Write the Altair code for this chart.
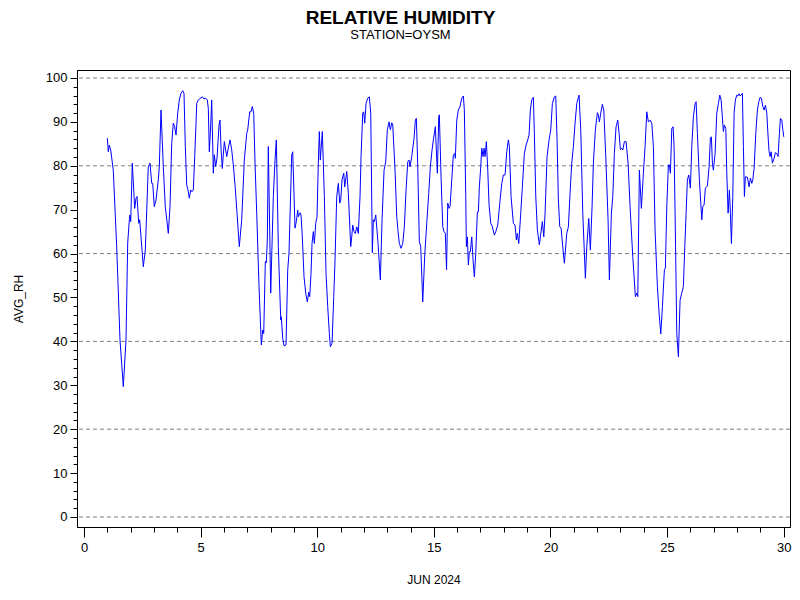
import altair as alt
import pandas as pd

# hourly-ish avg relative humidity
days = [
    1.000, 1.042, 1.085, 1.145, 1.256, 1.402, 1.544, 1.685, 1.801, 1.874,
    1.943, 1.972, 2.003, 2.071, 2.174, 2.230, 2.273, 2.346, 2.388, 2.543,
    2.629, 2.757, 2.830, 2.903, 2.946, 3.014, 3.087, 3.186, 3.229, 3.302,
    3.400, 3.486, 3.615, 3.688, 3.761, 3.829, 3.889, 3.945, 4.018, 4.087,
    4.159, 4.232, 4.288, 4.344, 4.404, 4.460, 4.515, 4.575, 4.631, 4.687,
    4.747, 4.803, 4.833, 4.901, 5.017, 5.073, 5.146, 5.219, 5.287, 5.330,
    5.373, 5.433, 5.476, 5.519, 5.544, 5.587, 5.647, 5.703, 5.789, 5.832,
    5.875, 5.930, 6.016, 6.119, 6.188, 6.261, 6.334, 6.402, 6.475, 6.561,
    6.659, 6.762, 6.874, 6.977, 7.020, 7.105, 7.161, 7.217, 7.277, 7.333,
    7.406, 7.504, 7.603, 7.663, 7.706, 7.774, 7.817, 7.860, 7.903, 8.006,
    8.117, 8.190, 8.246, 8.332, 8.435, 8.460, 8.520, 8.576, 8.662, 8.735,
    8.790, 8.906, 8.949, 9.048, 9.104, 9.164, 9.189, 9.262, 9.305, 9.361,
    9.434, 9.507, 9.575, 9.635, 9.678, 9.734, 9.777, 9.833, 9.876, 9.936,
    9.991, 10.047, 10.090, 10.133, 10.219, 10.305, 10.377, 10.450, 10.519, 10.562,
    10.635, 10.708, 10.763, 10.836, 10.905, 10.965, 11.008, 11.063, 11.136, 11.179,
    11.265, 11.334, 11.436, 11.479, 11.522, 11.578, 11.634, 11.694, 11.762, 11.835,
    11.878, 11.951, 11.994, 12.037, 12.093, 12.165, 12.234, 12.294, 12.363, 12.406,
    12.449, 12.509, 12.607, 12.706, 12.779, 12.865, 12.937, 13.006, 13.079, 13.135,
    13.195, 13.238, 13.336, 13.409, 13.465, 13.521, 13.593, 13.666, 13.735, 13.808,
    13.881, 13.937, 13.979, 14.052, 14.151, 14.207, 14.250, 14.310, 14.378, 14.438,
    14.524, 14.610, 14.696, 14.781, 14.850, 14.923, 14.979, 15.064, 15.150, 15.210,
    15.236, 15.309, 15.382, 15.437, 15.493, 15.544, 15.596, 15.652, 15.695, 15.768,
    15.836, 15.896, 15.922, 15.982, 16.050, 16.123, 16.196, 16.265, 16.308, 16.368,
    16.394, 16.437, 16.480, 16.522, 16.565, 16.625, 16.681, 16.737, 16.797, 16.866,
    16.909, 16.951, 17.011, 17.054, 17.110, 17.153, 17.196, 17.252, 17.312, 17.367,
    17.440, 17.509, 17.595, 17.655, 17.740, 17.839, 17.912, 17.980, 18.053, 18.126,
    18.195, 18.237, 18.310, 18.409, 18.482, 18.538, 18.581, 18.641, 18.726, 18.795,
    18.881, 18.953, 19.026, 19.082, 19.138, 19.198, 19.267, 19.310, 19.370, 19.438,
    19.524, 19.567, 19.653, 19.713, 19.769, 19.854, 19.940, 20.013, 20.082, 20.167,
    20.227, 20.283, 20.339, 20.399, 20.455, 20.519, 20.596, 20.699, 20.768, 20.840,
    20.913, 20.982, 21.055, 21.128, 21.226, 21.299, 21.385, 21.497, 21.557, 21.642,
    21.711, 21.784, 21.840, 21.925, 22.011, 22.054, 22.097, 22.157, 22.226, 22.286,
    22.371, 22.470, 22.526, 22.612, 22.672, 22.740, 22.813, 22.886, 22.942, 22.998,
    23.058, 23.100, 23.169, 23.242, 23.328, 23.413, 23.529, 23.640, 23.701, 23.744,
    23.812, 23.898, 23.984, 24.057, 24.129, 24.198, 24.271, 24.344, 24.413, 24.485,
    24.584, 24.657, 24.730, 24.799, 24.884, 24.927, 24.987, 25.056, 25.099, 25.142,
    25.202, 25.257, 25.300, 25.364, 25.416, 25.485, 25.557, 25.630, 25.699, 25.759,
    25.815, 25.870, 25.930, 25.956, 25.999, 26.059, 26.128, 26.201, 26.244, 26.300,
    26.385, 26.488, 26.531, 26.587, 26.642, 26.728, 26.801, 26.857, 26.900, 26.943,
    26.985, 27.058, 27.131, 27.200, 27.260, 27.316, 27.358, 27.414, 27.457, 27.517,
    27.560, 27.616, 27.672, 27.715, 27.758, 27.817, 27.873, 27.929, 27.989, 28.032,
    28.087, 28.130, 28.173, 28.229, 28.272, 28.315, 28.358, 28.443, 28.516, 28.572,
    28.632, 28.675, 28.731, 28.803, 28.872, 28.932, 28.988, 29.044, 29.104, 29.160,
    29.215, 29.275, 29.331, 29.374, 29.417, 29.460, 29.516, 29.588, 29.644, 29.704,
    29.760, 29.816, 29.859, 29.919, 29.962, 30.004,
]

avg_rh = [
    86.3, 83.2, 84.7, 83.6, 79.0, 61.6, 40.3, 29.7, 40.3, 62.4,
    67.7, 68.8, 67.3, 80.6, 70.3, 72.6, 73.0, 66.9, 67.7, 57.0,
    60.8, 79.8, 80.6, 76.0, 76.0, 70.7, 72.2, 76.8, 79.8, 92.7,
    79.8, 70.7, 64.6, 70.7, 85.1, 89.7, 88.9, 87.0, 92.0, 95.0,
    96.5, 97.1, 96.5, 84.4, 75.6, 74.5, 72.6, 74.5, 74.1, 74.5,
    82.1, 89.7, 94.2, 95.0, 95.5, 95.7, 95.2, 95.4, 95.0, 93.1,
    83.2, 89.3, 95.0, 84.7, 78.3, 82.5, 79.8, 81.7, 89.3, 90.4,
    84.0, 79.4, 85.5, 82.1, 84.0, 85.9, 83.6, 80.2, 75.6, 69.2,
    61.6, 67.7, 81.3, 87.4, 88.2, 92.3, 92.3, 93.5, 92.0, 80.6,
    69.2, 52.5, 39.2, 42.6, 41.8, 58.2, 57.9, 63.1, 84.4, 51.0,
    73.0, 81.3, 85.9, 61.6, 44.9, 45.6, 40.7, 39.0, 39.2, 56.3,
    60.1, 82.5, 83.2, 65.8, 67.3, 69.9, 68.4, 69.3, 68.8, 63.8,
    54.7, 51.0, 49.0, 51.2, 50.2, 55.5, 62.3, 65.0, 62.3, 66.9,
    68.4, 80.6, 87.8, 81.3, 87.8, 73.0, 55.5, 47.9, 41.8, 38.8,
    39.6, 50.2, 58.5, 73.0, 76.0, 71.5, 72.2, 76.8, 78.3, 75.2,
    78.7, 73.7, 61.6, 63.8, 66.5, 65.0, 64.6, 66.1, 64.6, 73.0,
    82.1, 92.0, 92.3, 89.7, 94.2, 95.4, 95.7, 92.0, 60.2, 67.7,
    67.3, 68.8, 62.3, 54.0, 67.7, 79.0, 80.9, 88.2, 90.0, 88.2,
    89.8, 89.3, 79.0, 68.4, 65.0, 62.3, 61.2, 62.3, 66.1, 74.5,
    80.9, 81.3, 79.8, 82.1, 86.3, 90.4, 90.8, 79.8, 62.7, 61.6,
    49.0, 59.7, 66.9, 73.7, 79.8, 83.6, 85.9, 88.9, 78.3, 91.2,
    91.6, 77.5, 66.1, 65.0, 64.6, 56.3, 71.5, 70.3, 70.7, 76.8,
    82.5, 82.8, 81.7, 90.4, 92.7, 93.5, 95.4, 95.9, 92.7, 73.0,
    61.6, 63.8, 57.4, 60.4, 60.4, 63.8, 58.5, 54.7, 60.1, 69.5,
    69.5, 75.2, 79.8, 84.0, 82.1, 84.0, 82.1, 85.5, 79.0, 71.1,
    66.9, 66.1, 64.2, 65.0, 66.5, 72.2, 76.0, 77.9, 77.9, 83.2,
    85.9, 84.4, 73.0, 66.9, 66.5, 63.1, 64.6, 62.3, 69.2, 75.2,
    82.8, 84.7, 85.9, 87.0, 92.7, 95.0, 95.6, 87.4, 73.0, 65.4,
    62.0, 63.8, 67.3, 63.8, 69.2, 82.1, 85.9, 88.2, 94.2, 95.7,
    95.9, 85.9, 72.2, 66.1, 65.8, 62.0, 57.8, 64.6, 66.1, 73.7,
    80.6, 84.4, 89.7, 94.2, 96.1, 88.2, 69.2, 54.4, 61.6, 68.0,
    60.8, 70.7, 80.6, 88.2, 92.1, 91.6, 90.0, 92.0, 94.0, 92.7,
    82.1, 67.7, 54.0, 69.2, 73.0, 82.8, 88.9, 90.4, 87.4, 83.7,
    84.0, 83.6, 85.5, 85.5, 80.6, 70.7, 59.3, 50.2, 51.0, 50.2,
    79.0, 70.3, 78.3, 84.4, 92.3, 90.0, 90.4, 89.7, 84.4, 65.4,
    52.5, 46.4, 41.7, 47.9, 56.3, 56.7, 70.7, 80.2, 80.2, 78.3,
    88.5, 88.9, 84.4, 61.6, 41.8, 36.5, 49.4, 51.0, 52.5, 61.6,
    69.2, 76.8, 77.9, 76.8, 74.9, 84.4, 91.2, 94.2, 94.6, 87.4,
    76.8, 67.7, 70.7, 71.1, 74.9, 75.4, 79.8, 86.3, 86.6, 80.6,
    79.0, 82.8, 92.0, 94.2, 96.1, 95.0, 92.0, 87.8, 89.3, 88.5,
    78.3, 69.2, 74.5, 69.2, 62.3, 73.0, 92.0, 95.0, 96.1, 95.9,
    96.4, 95.9, 96.1, 96.5, 84.4, 73.0, 77.5, 77.4, 75.2, 77.2,
    76.0, 76.8, 79.4, 87.4, 92.7, 94.6, 95.6, 95.4, 93.5, 92.7,
    93.8, 92.0, 86.6, 83.2, 82.1, 83.2, 80.6, 81.7, 83.0, 82.8,
    82.1, 87.4, 90.8, 90.4, 88.2, 86.6,
]

x_major = list(range(0, 31, 5))
x_minor = list(range(0, 31))
y_major = list(range(0, 101, 10))
y_minor = list(range(0, 101, 2))
grid_lines = list(range(0, 101, 20))

FONT = "Liberation Sans"

df = pd.DataFrame({"day": days, "rh": avg_rh})

xscale = alt.Scale(domain=[-0.3, 30.27], nice=False, zero=False)
yscale = alt.Scale(domain=[-2.28, 101.82], nice=False, zero=False)

# dashed reference lines every 20, carrying the minor y ticks
grid = alt.Chart(pd.DataFrame({"g": grid_lines})).mark_rule(
    color="#808080", strokeDash=[4, 3], strokeWidth=1
).encode(
    y=alt.Y("g:Q", scale=yscale,
            axis=alt.Axis(orient="left", values=y_minor, labels=False, tickSize=4,
                          domain=False, grid=False, title=""))
)

# invisible layer that only carries the minor x ticks
minor_x = alt.Chart(pd.DataFrame({"m": x_minor})).mark_point(opacity=0).encode(
    x=alt.X("m:Q", scale=xscale,
            axis=alt.Axis(orient="bottom", values=x_minor, labels=False, tickSize=5,
                          domain=False, grid=False, title=""))
)

line = alt.Chart(df).mark_line(color="#0000ff", strokeWidth=1).encode(
    x=alt.X("day:Q", scale=xscale,
            axis=alt.Axis(orient="bottom", values=x_major, tickSize=10, grid=False,
                          labelFlush=False, labelPadding=4, titlePadding=20,
                          format="d", title="JUN 2024")),
    y=alt.Y("rh:Q", scale=yscale,
            axis=alt.Axis(orient="left", values=y_major, tickSize=7, grid=False,
                          labelPadding=3, titlePadding=20, format="d", title="AVG_RH")),
)

chart = alt.layer(grid, minor_x, line).resolve_scale(
    x="shared", y="shared"
).resolve_axis(
    x="independent", y="independent"
).properties(
    width=713,
    height=457,
    autosize="none",
    padding={"left": 69, "top": 62, "right": 2, "bottom": 65},
    title=alt.TitleParams(
        text="RELATIVE HUMIDITY",
        subtitle="STATION=OYSM",
        font=FONT,
        fontSize=19,
        fontWeight="bold",
        color="black",
        subtitleFont=FONT,
        subtitleFontSize=13,
        subtitleColor="black",
        subtitlePadding=1,
        anchor="middle",
        dx=-33,
        offset=28,
    ),
).configure_view(
    stroke="black", strokeWidth=1
).configure_axis(
    labelFont=FONT, labelFontSize=13, labelColor="black",
    titleFont=FONT, titleFontSize=12, titleFontWeight="normal", titleColor="black",
    tickColor="black", domainColor="black", tickWidth=1, domainWidth=1,
)

chart.save("out.html", embed_options={"renderer": "svg", "actions": False})
